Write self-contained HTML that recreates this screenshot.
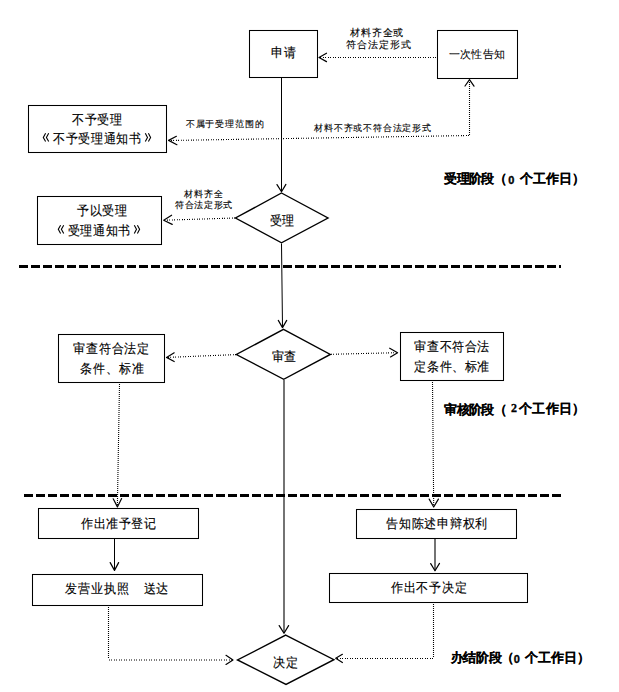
<!DOCTYPE html>
<html><head><meta charset="utf-8">
<style>
html,body{margin:0;padding:0;background:#fff;}
body{width:619px;height:692px;position:relative;overflow:hidden;font-family:"Liberation Sans",sans-serif;color:#000;}
svg{position:absolute;left:0;top:0;}
div{position:absolute;white-space:nowrap;line-height:1;}
.b{font-weight:bold;}
.n{font-family:"Liberation Serif",serif;font-weight:bold;}
</style></head><body>
<svg width="619" height="692" viewBox="0 0 619 692">
 <g fill="none" stroke="#000" stroke-width="1.05">
  <rect x="249.5" y="30.5" width="68" height="47"/>
  <rect x="437.5" y="30.5" width="80" height="48"/>
  <rect x="28.5" y="105.5" width="138" height="47"/>
  <rect x="37.5" y="196.5" width="124" height="48"/>
  <rect x="58.5" y="334.5" width="106" height="48"/>
  <rect x="400.5" y="332.5" width="103" height="48"/>
  <rect x="38.5" y="508.5" width="160" height="30"/>
  <rect x="32.5" y="574.5" width="170" height="31"/>
  <rect x="356.5" y="509.5" width="160" height="29"/>
  <rect x="329.5" y="573.5" width="198" height="29"/>
 </g>
 <g fill="none" stroke="#000" stroke-width="1.4" stroke-linejoin="miter">
  <polygon points="281.5,193 328,218 281.5,242.8 235.5,218"/>
  <polygon points="283.5,329.3 330.3,354.4 283.7,379.3 236.4,354.5"/>
  <polygon points="285.7,635.1 333.9,659.7 286,684.4 237.5,660"/>
 </g>
 <g fill="none" stroke="#000" stroke-width="1">
  <line x1="281.5" y1="78" x2="281.5" y2="191.5"/>
  <line x1="281.5" y1="243.5" x2="282.5" y2="327"/>
  <line x1="114.5" y1="539" x2="114.5" y2="570"/>
 </g>
 <g fill="none" stroke="#000" stroke-width="1.1">
  <line x1="284" y1="380" x2="284" y2="633"/>
  <line x1="435" y1="539" x2="435" y2="570.5"/>
 </g>
 <g fill="none" stroke="#000" stroke-width="1.2" stroke-linecap="round" stroke-linejoin="round">
  <polyline points="277,184.6 281.5,191.8 285.9,184.4"/>
  <polyline points="278.3,320.4 282.5,327.6 286.7,320.4"/>
  <polyline points="279.2,625.6 284,633.3 288.6,625.6"/>
  <polyline points="110.2,562.6 114.5,570.4 118.6,562.6"/>
  <polyline points="430.7,563.6 435,570.8 439.5,563.4"/>
  <polyline points="326.5,53.2 319,57.5 326.5,61.6"/>
  <polyline points="465,86 469.5,79.6 474,86.2"/>
  <polyline points="176.4,136.3 168.6,140.4 176.9,144.7"/>
  <polyline points="171.6,215.2 163.7,220.2 172.2,224.4"/>
  <polyline points="174.2,352.8 166.5,357.4 174.2,361.5"/>
  <polyline points="389.7,348.2 397.6,352.7 390.5,356.9"/>
  <polyline points="113.2,498.8 117.4,506.9 121.6,498.6"/>
  <polyline points="429.2,499.1 433.7,507 438.4,499.1"/>
  <polyline points="226,655.3 233,660 226,664.4"/>
  <polyline points="342.4,654.3 335.7,658.3 342.4,662.5"/>
 </g>
 <g fill="none" stroke="#000" stroke-width="1.1" stroke-dasharray="1 1 1 2">
  <line x1="436" y1="57.5" x2="320" y2="57.5"/>
  <line x1="469" y1="135.5" x2="169.5" y2="140.5"/>
  <line x1="235" y1="218" x2="165" y2="220.2"/>
  <line x1="236" y1="354.6" x2="167.5" y2="357.4"/>
  <line x1="331" y1="354.3" x2="396.5" y2="352.7"/>
  <line x1="109" y1="660" x2="232" y2="660"/>
  <line x1="433" y1="658.5" x2="337" y2="658.5"/>
 </g>
 <g fill="none" stroke="#000" stroke-width="1.1" stroke-dasharray="1 1">
  <line x1="469.5" y1="135" x2="469.5" y2="81"/>
  <line x1="119.5" y1="384" x2="117.4" y2="505.5"/>
  <line x1="432.5" y1="382" x2="433.7" y2="505.5"/>
  <line x1="108.5" y1="607" x2="108.5" y2="659"/>
  <line x1="433.5" y1="604" x2="433.5" y2="658"/>
 </g>
 <g stroke="#000" stroke-width="3" stroke-dasharray="9 3">
  <line x1="19" y1="266.5" x2="561" y2="266.5"/>
  <line x1="24" y1="495.5" x2="561" y2="495.5"/>
 </g>
 <g fill="none" stroke="#000" stroke-width="1.1">
  <polyline points="45.6,133.3 43.3,137.5 45.6,141.6"/>
  <polyline points="48.7,133.3 46.4,137.5 48.7,141.6"/>
  <polyline points="145.3,133.3 147.5,137.4 145.3,141.4"/>
  <polyline points="148.4,133.3 150.6,137.4 148.4,141.4"/>
  <polyline points="60.6,225.2 58.3,229.3 60.6,233.4"/>
  <polyline points="63.7,225.2 61.4,229.3 63.7,233.4"/>
  <polyline points="134.3,225.2 136.5,229.3 134.3,233.4"/>
  <polyline points="137.4,225.2 139.6,229.3 137.4,233.4"/>
 </g>
</svg>

<div style="left:271.0px;top:46.1px;font-size:12px;letter-spacing:0.6px;transform:scaleY(1.08);transform-origin:0 0;-webkit-text-stroke:0.12px #000;">申请</div>
<div style="left:449.0px;top:49.0px;font-size:11px;letter-spacing:0.21px;-webkit-text-stroke:0.05px #000;">一次性告知</div>
<div style="left:72.0px;top:112.9px;font-size:12px;letter-spacing:0.67px;transform:scaleY(1.08);transform-origin:0 0;-webkit-text-stroke:0.12px #000;">不予受理</div>
<div style="left:53.0px;top:131.5px;font-size:12px;letter-spacing:0.7px;transform:scaleY(1.08);transform-origin:0 0;-webkit-text-stroke:0.12px #000;">不予受理通知书</div>
<div style="left:77.0px;top:203.5px;font-size:12px;letter-spacing:0.6px;transform:scaleY(1.08);transform-origin:0 0;-webkit-text-stroke:0.12px #000;">予以受理</div>
<div style="left:67.8px;top:223.7px;font-size:12px;letter-spacing:0.58px;transform:scaleY(1.08);transform-origin:0 0;-webkit-text-stroke:0.12px #000;">受理通知书</div>
<div style="left:269.6px;top:213.9px;font-size:12px;letter-spacing:0.5px;transform:scaleY(1.08);transform-origin:0 0;-webkit-text-stroke:0.12px #000;">受理</div>
<div style="left:272.4px;top:350.2px;font-size:12px;letter-spacing:0.0px;transform:scaleY(1.08);transform-origin:0 0;-webkit-text-stroke:0.12px #000;">审查</div>
<div style="left:273.2px;top:655.5px;font-size:12px;letter-spacing:1.1px;transform:scaleY(1.08);transform-origin:0 0;-webkit-text-stroke:0.12px #000;">决定</div>
<div style="left:73.0px;top:341.5px;font-size:12px;letter-spacing:0.86px;transform:scaleY(1.08);transform-origin:0 0;-webkit-text-stroke:0.12px #000;">审查符合法定</div>
<div style="left:80.0px;top:361.5px;font-size:12px;letter-spacing:0.9px;transform:scaleY(1.08);transform-origin:0 0;-webkit-text-stroke:0.12px #000;">条件、标准</div>
<div style="left:414.4px;top:340.1px;font-size:12px;letter-spacing:0.62px;transform:scaleY(1.08);transform-origin:0 0;-webkit-text-stroke:0.12px #000;">审查不符合法</div>
<div style="left:414.4px;top:359.5px;font-size:12px;letter-spacing:0.62px;transform:scaleY(1.08);transform-origin:0 0;-webkit-text-stroke:0.12px #000;">定条件、标准</div>
<div style="left:81.0px;top:516.5px;font-size:12px;letter-spacing:0.5px;transform:scaleY(1.08);transform-origin:0 0;-webkit-text-stroke:0.12px #000;">作出准予登记</div>
<div style="left:65.0px;top:581.5px;font-size:12px;letter-spacing:1.0px;transform:scaleY(1.08);transform-origin:0 0;-webkit-text-stroke:0.12px #000;">发营业执照</div>
<div style="left:143.8px;top:582.0px;font-size:12px;letter-spacing:0.5px;transform:scaleY(1.08);transform-origin:0 0;-webkit-text-stroke:0.12px #000;">送达</div>
<div style="left:386.2px;top:516.9px;font-size:12px;letter-spacing:0.74px;transform:scaleY(1.08);transform-origin:0 0;-webkit-text-stroke:0.12px #000;">告知陈述申辩权利</div>
<div style="left:390.8px;top:581.1px;font-size:12px;letter-spacing:0.82px;transform:scaleY(1.08);transform-origin:0 0;-webkit-text-stroke:0.12px #000;">作出不予决定</div>
<div style="left:350.2px;top:28.4px;font-size:10px;letter-spacing:0.78px;color:#000;-webkit-text-stroke:0.12px #000;">材料齐全或</div>
<div style="left:346.2px;top:39.6px;font-size:10px;letter-spacing:1.0px;color:#000;-webkit-text-stroke:0.12px #000;">符合法定形式</div>
<div style="left:185.8px;top:119.5px;font-size:9px;letter-spacing:0.85px;color:#000;-webkit-text-stroke:0.12px #000;">不属于受理范围的</div>
<div style="left:314.2px;top:124.0px;font-size:9px;letter-spacing:0.81px;color:#000;-webkit-text-stroke:0.12px #000;">材料不齐或不符合法定形式</div>
<div style="left:183.6px;top:190.4px;font-size:9px;letter-spacing:1.12px;color:#000;-webkit-text-stroke:0.12px #000;">材料齐全</div>
<div style="left:175.2px;top:201.0px;font-size:9px;letter-spacing:0.6px;color:#000;-webkit-text-stroke:0.12px #000;">符合法定形式</div>
<div class="b" style="left:444.2px;top:172.0px;font-size:13px;letter-spacing:-0.6px;-webkit-text-stroke:0.1px #000;">受理阶段（</div>
<div class="b" style="left:508.2px;top:175.2px;font-size:11px;letter-spacing:0px;-webkit-text-stroke:0.35px #000;">0</div>
<div class="b" style="left:519.8px;top:172.0px;font-size:13px;letter-spacing:0.04px;-webkit-text-stroke:0.1px #000;">个工作日）</div>
<div class="b" style="left:444.2px;top:402.8px;font-size:13px;letter-spacing:-0.6px;-webkit-text-stroke:0.1px #000;">审核阶段（</div>
<div class="b" style="left:511.0px;top:402.4px;font-size:12px;letter-spacing:0px;font-family:'Liberation Serif',serif;-webkit-text-stroke:0.3px #000;">2</div>
<div class="b" style="left:518.8px;top:401.8px;font-size:13px;letter-spacing:0.4px;-webkit-text-stroke:0.1px #000;">个工作日）</div>
<div class="b" style="left:450.6px;top:650.6px;font-size:13px;letter-spacing:-0.31px;-webkit-text-stroke:0.1px #000;">办结阶段（</div>
<div class="b" style="left:513.8px;top:653.5px;font-size:11px;letter-spacing:0px;-webkit-text-stroke:0.35px #000;">0</div>
<div class="b" style="left:525.2px;top:650.6px;font-size:13px;letter-spacing:0.06px;-webkit-text-stroke:0.1px #000;">个工作日）</div>
</body></html>
